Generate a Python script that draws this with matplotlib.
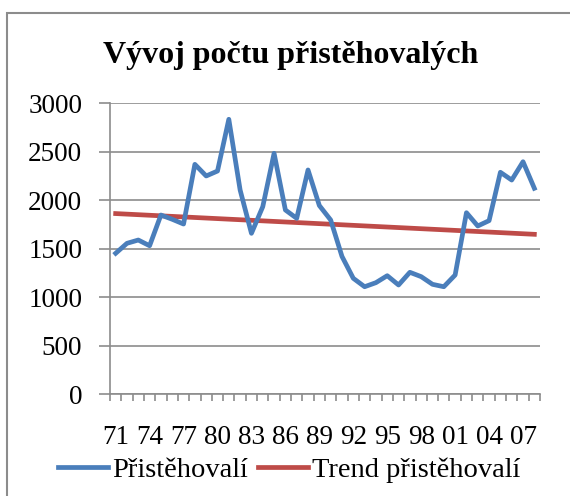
import matplotlib
matplotlib.use("Agg")
import matplotlib.pyplot as plt
from matplotlib.patches import Rectangle
from matplotlib.lines import Line2D

years = list(range(1971, 2009))
tick_labels = ["71", "74", "77", "80", "83", "86", "89", "92", "95", "98", "01", "04", "07"]
immigrants = [1452, 1555, 1589, 1530, 1847, 1803, 1754, 2370, 2250, 2301,
              2835, 2105, 1658, 1933, 2484, 1899, 1813, 2312, 1945, 1796,
              1420, 1194, 1107, 1149, 1221, 1125, 1256, 1211, 1132, 1107,
              1228, 1871, 1734, 1789, 2288, 2208, 2397, 2123]
trend_ends = [1862, 1648]

title = "Vývoj počtu přistěhovalých"
series_names = ["Přistěhovalí", "Trend přistěhovalí"]

plt.rcParams['font.family'] = ['Liberation Serif', 'DejaVu Serif']

W, H = 570, 496
fig = plt.figure(figsize=(W / 100, H / 100), dpi=100)

# outer chart frame
fig.patches.append(Rectangle((7 / W, -0.1), 1.2, 1 - 13 / H + 0.1, transform=fig.transFigure,
                             fill=False, edgecolor='#8c8c8c', linewidth=1.5))

ax = fig.add_axes([110 / W, 1 - 394 / H, (540 - 110) / W, (394 - 103.3) / H])

x = list(range(len(years)))
blue = '#4A7EBB'
red = '#BE4B48'
ax.plot(x, immigrants, color=blue, linewidth=3.4, solid_joinstyle='round', zorder=3)
ax.plot([x[0], x[-1]], trend_ends, color=red, linewidth=3.4, zorder=2)

ax.set_xlim(-0.5, len(years) - 0.5)
ax.set_ylim(0, 3000)
ax.set_yticks(range(0, 3001, 500))
ax.yaxis.grid(True, color='#8c8c8c', linewidth=1.2)
ax.set_axisbelow(True)

ax.set_xticks(x[::3])
ax.set_xticklabels(tick_labels)
ax.set_xticks([i - 0.5 for i in range(len(years) + 1)], minor=True)
ax.tick_params(axis='x', which='major', length=0, pad=22, labelsize=19.5)
ax.tick_params(axis='x', which='minor', length=5, width=1.2, color='#8c8c8c', direction='out')
ax.tick_params(axis='y', length=8, width=1.2, color='#8c8c8c', pad=12, labelsize=19.5)

for s in ['top', 'right']:
    ax.spines[s].set_visible(False)
for s in ['left', 'bottom']:
    ax.spines[s].set_color('#8c8c8c')
    ax.spines[s].set_linewidth(1.2)

fig.text(291 / W, 1 - 56 / H, title, ha='center', va='center', fontsize=23, fontweight='bold')

handles = [Line2D([], [], color=blue, linewidth=3.4), Line2D([], [], color=red, linewidth=3.4)]
fig.legend(handles, series_names, loc='center', bbox_to_anchor=(289 / W, 1 - 470 / H),
           ncol=2, frameon=False, fontsize=20.5, handlelength=1.75, handletextpad=0.15,
           columnspacing=0.35, borderaxespad=0)

fig.savefig("out.png", dpi=100)
